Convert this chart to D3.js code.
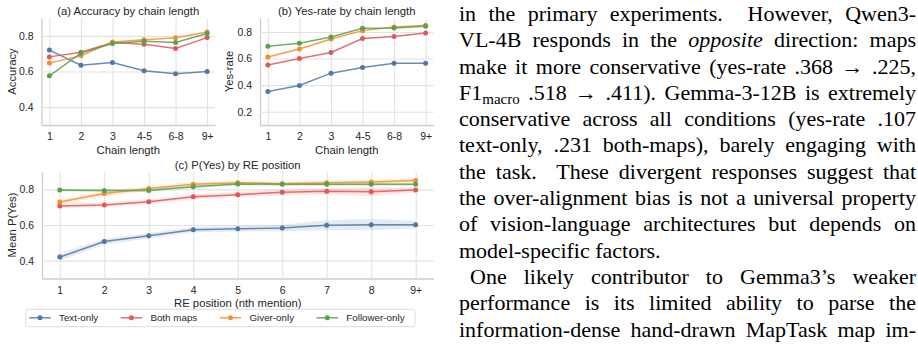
<!DOCTYPE html>
<html>
<head>
<meta charset="utf-8">
<script src="https://cdn.jsdelivr.net/npm/d3@7"></script>
<style>
  body { margin: 0; background: #fff; width: 918px; height: 355px; overflow: hidden; position: relative; }
  svg { position: absolute; left: 0; top: 0; }
  #txt { position: absolute; left: 459px; top: 1px; width: 457px;
         font-family: "Liberation Serif", "Times New Roman", serif; font-size: 22px; color: #000; }
  #txt .ln { height: 26.3px; line-height: 26.3px; text-align: justify; text-align-last: justify; overflow: visible; }
  #txt .ln.last { text-align-last: left; }
  #txt .ln.indent { text-indent: 11px; }
  #txt sub { font-size: 15px; vertical-align: -4px; line-height: 0; }
</style>
</head>
<body>
<script>
// Chart data

const chainLabels = ["1", "2", "3", "4-5", "6-8", "9+"];
const rePosLabels = ["1", "2", "3", "4", "5", "6", "7", "8", "9+"];
const conditions = ["Text-only", "Both maps", "Giver-only", "Follower-only"];
const colors = ["#4e79a7", "#e15759", "#f28e2b", "#59a14f"];

// (a) accuracy by chain length
const accText     = [0.720, 0.635, 0.650, 0.604, 0.587, 0.600];
const accBoth     = [0.682, 0.708, 0.763, 0.753, 0.729, 0.790];
const accGiver    = [0.647, 0.688, 0.766, 0.778, 0.789, 0.822];
const accFollower = [0.576, 0.703, 0.757, 0.770, 0.763, 0.813];

// (b) yes-rate by chain length
const yesText     = [0.352, 0.397, 0.490, 0.532, 0.565, 0.565];
const yesBoth     = [0.552, 0.600, 0.645, 0.750, 0.765, 0.792];
const yesGiver    = [0.612, 0.672, 0.747, 0.810, 0.837, 0.850];
const yesFollower = [0.692, 0.715, 0.762, 0.827, 0.830, 0.842];

// (c) mean P(yes) by RE position, with CI half widths
const pText     = [0.420, 0.507, 0.540, 0.574, 0.579, 0.583, 0.598, 0.602, 0.602];
const pBoth     = [0.707, 0.712, 0.731, 0.759, 0.770, 0.783, 0.789, 0.787, 0.796];
const pGiver    = [0.729, 0.776, 0.804, 0.828, 0.837, 0.832, 0.837, 0.841, 0.849];
const pFollower = [0.796, 0.793, 0.794, 0.815, 0.830, 0.828, 0.828, 0.828, 0.828];
const ciText     = [0.020, 0.016, 0.015, 0.015, 0.015, 0.018, 0.028, 0.032, 0.022];
const ciBoth     = [0.012, 0.013, 0.013, 0.014, 0.015, 0.016, 0.018, 0.025, 0.015];
const ciGiver    = [0.016, 0.015, 0.013, 0.012, 0.012, 0.012, 0.012, 0.013, 0.012];
const ciFollower = [0.009, 0.009, 0.009, 0.009, 0.009, 0.009, 0.009, 0.009, 0.009];

// text column on the right
const textLines = [
  "in the primary experiments.&nbsp; However, Qwen3-",
  "VL-4B responds in the <i>opposite</i> direction: maps",
  "make it more conservative (yes-rate .368 \u2192 .225,",
  "F1<sub>macro</sub> .518 \u2192 .411). Gemma-3-12B is extremely",
  "conservative across all conditions (yes-rate .107",
  "text-only, .231 both-maps), barely engaging with",
  "the task.&nbsp; These divergent responses suggest that",
  "the over-alignment bias is not a universal property",
  "of vision-language architectures but depends on",
  "model-specific factors.",
  "One likely contributor to Gemma3\u2019s weaker",
  "performance is its limited ability to parse the",
  "information-dense hand-drawn MapTask map im-"
];

const W = 918, H = 355;
const font = "'Liberation Sans', Arial, sans-serif";

const svg = d3.select("body").append("svg")
  .attr("width", W).attr("height", H)
  .style("font-family", font);

// draw one panel
function drawPanel(cfg) {
  const x = d3.scalePoint().domain(cfg.labels).range([cfg.x0, cfg.x1]).padding(cfg.pad);
  const y = d3.scaleLinear().domain(cfg.yDomain).range([cfg.y1, cfg.y0]);
  const g = svg.append("g");

  // x axis + vertical grid
  const gx = g.append("g")
    .attr("transform", `translate(0,${cfg.y1})`)
    .call(d3.axisBottom(x).tickSize(-(cfg.y1 - cfg.y0)).tickSizeOuter(0).tickPadding(8));
  // y axis + horizontal grid
  const gy = g.append("g")
    .attr("transform", `translate(${cfg.x0},0)`)
    .call(d3.axisLeft(y).tickValues(cfg.yTicks).tickFormat(d3.format(".1f"))
      .tickSize(-(cfg.x1 - cfg.x0)).tickSizeOuter(0).tickPadding(8));

  [gx, gy].forEach(a => {
    a.select(".domain").attr("stroke", "#cdcdcd").attr("stroke-width", 1.3);
    a.selectAll(".tick line").attr("stroke", "#e2e2e2").attr("stroke-width", 1.1);
    a.selectAll(".tick text").attr("fill", "#262626").style("font-size", "10.5px").style("font-family", font);
  });

  // CI bands
  if (cfg.ci) {
    cfg.series.forEach((s, k) => {
      const area = d3.area()
        .x((d, i) => x(cfg.labels[i]))
        .y0((d, i) => y(d - cfg.ci[k][i]))
        .y1((d, i) => y(d + cfg.ci[k][i]));
      g.append("path").datum(s)
        .attr("d", area).attr("fill", colors[k]).attr("fill-opacity", 0.15);
    });
  }

  // lines + markers
  cfg.series.forEach((s, k) => {
    const line = d3.line().x((d, i) => x(cfg.labels[i])).y(d => y(d));
    g.append("path").datum(s)
      .attr("d", line).attr("fill", "none")
      .attr("stroke", colors[k]).attr("stroke-width", 1.5).attr("stroke-opacity", 0.85);
    g.selectAll(null).data(s).enter().append("circle")
      .attr("cx", (d, i) => x(cfg.labels[i])).attr("cy", d => y(d))
      .attr("r", 2.5).attr("fill", colors[k]);
  });

  // title and labels
  const cx = (cfg.x0 + cfg.x1) / 2;
  g.append("text").attr("x", cx).attr("y", cfg.y0 - 3)
    .attr("text-anchor", "middle").attr("fill", "#262626")
    .style("font-size", "11.3px").text(cfg.title);
  g.append("text").attr("x", cx).attr("y", cfg.xLabelY)
    .attr("text-anchor", "middle").attr("dy", "0.35em").attr("fill", "#262626")
    .style("font-size", "11.3px").text(cfg.xLabel);
  g.append("text")
    .attr("transform", `translate(${cfg.yLabelX},${(cfg.y0 + cfg.y1) / 2}) rotate(-90)`)
    .attr("text-anchor", "middle").attr("dy", "0.35em").attr("fill", "#262626")
    .style("font-size", "11.3px").text(cfg.yLabel);
}

drawPanel({
  x0: 41.5, x1: 215, y0: 18, y1: 125, pad: 0.25,
  labels: chainLabels, yDomain: [0.3, 0.9], yTicks: [0.4, 0.6, 0.8],
  series: [accText, accBoth, accGiver, accFollower],
  title: "(a) Accuracy by chain length", xLabel: "Chain length", xLabelY: 150,
  yLabel: "Accuracy", yLabelX: 12
});

drawPanel({
  x0: 260, x1: 433.5, y0: 18, y1: 125, pad: 0.25,
  labels: chainLabels, yDomain: [0.1, 0.905], yTicks: [0.2, 0.4, 0.6, 0.8],
  series: [yesText, yesBoth, yesGiver, yesFollower],
  title: "(b) Yes-rate by chain length", xLabel: "Chain length", xLabelY: 150,
  yLabel: "Yes-rate", yLabelX: 229
});

drawPanel({
  x0: 42, x1: 433.5, y0: 171.5, y1: 278.5, pad: 0.4,
  labels: rePosLabels, yDomain: [0.3, 0.9], yTicks: [0.4, 0.6, 0.8],
  series: [pText, pBoth, pGiver, pFollower],
  ci: [ciText, ciBoth, ciGiver, ciFollower],
  title: "(c) P(Yes) by RE position", xLabel: "RE position (nth mention)", xLabelY: 303.5,
  yLabel: "Mean P(Yes)", yLabelX: 12
});

// legend
const leg = svg.append("g");
leg.append("rect")
  .attr("x", 25.7).attr("y", 309.3).attr("width", 389.3).attr("height", 17.4)
  .attr("rx", 2.5).attr("fill", "#fff").attr("stroke", "#dcdcdc").attr("stroke-width", 1);
let lx = 29.3;
const ly = 317.8;
conditions.forEach((name, k) => {
  leg.append("line").attr("x1", lx).attr("x2", lx + 21.5).attr("y1", ly).attr("y2", ly)
    .attr("stroke", colors[k]).attr("stroke-width", 1.5).attr("stroke-opacity", 0.85);
  leg.append("circle").attr("cx", lx + 10.7).attr("cy", ly).attr("r", 2.5).attr("fill", colors[k]);
  const t = leg.append("text").attr("x", lx + 29.7).attr("y", ly).attr("dy", "0.35em")
    .attr("fill", "#262626").style("font-size", "9.8px").text(name);
  lx += 29.7 + t.node().getComputedTextLength() + 22.5;
});

// paragraph text
const txt = d3.select("body").append("div").attr("id", "txt");
txt.selectAll("div").data(textLines).enter().append("div")
  .attr("class", (d, i) => "ln" + (i === 9 ? " last" : "") + (i === 10 ? " indent" : ""))
  .html(d => d);
</script>
</body>
</html>
